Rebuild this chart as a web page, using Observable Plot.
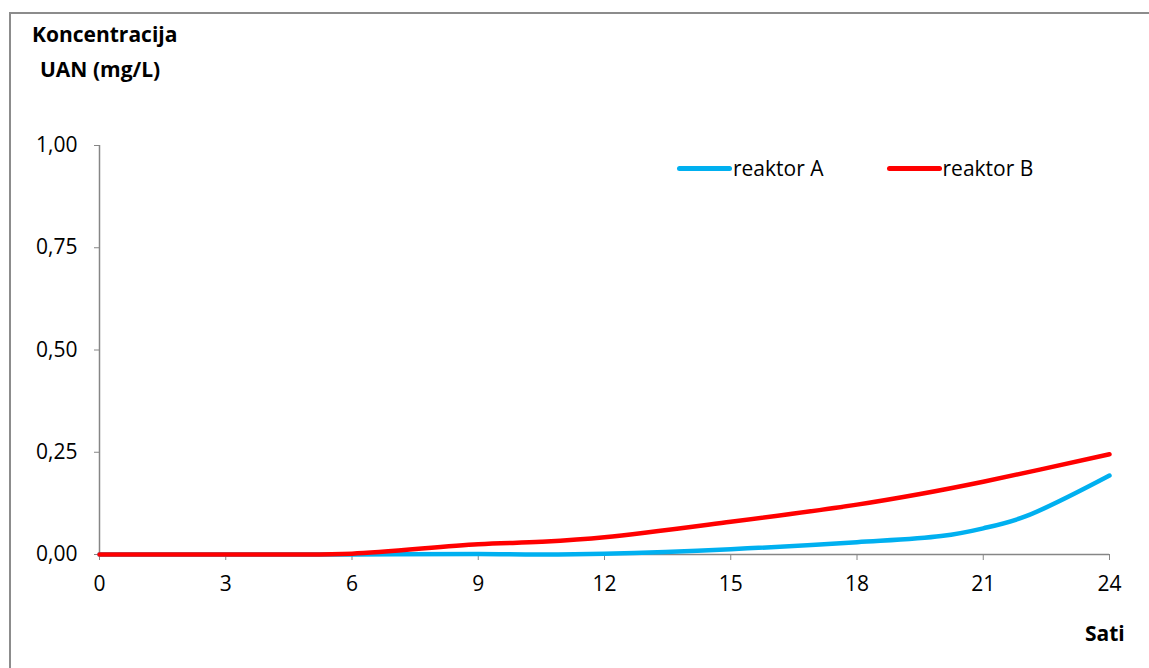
<!DOCTYPE html>
<html><head><meta charset="utf-8">
<script src="https://cdn.jsdelivr.net/npm/d3@7"></script>
<script src="https://cdn.jsdelivr.net/npm/@observablehq/plot@0.6"></script>
<style>
body{margin:0;background:#fff;}
#wrap{position:relative;width:1149px;height:668px;overflow:hidden;font-family:"Open Sans",sans-serif;}
#frame{position:absolute;left:9px;top:12px;width:1160px;height:680px;border:2px solid #8c8c8c;box-sizing:border-box;}
.t{position:absolute;font-weight:bold;font-size:21px;line-height:28px;color:#000;white-space:nowrap;}
#legend{position:absolute;left:677px;top:154px;font-size:21px;line-height:28px;display:flex;align-items:center;}
.sw{display:inline-block;width:55px;height:5px;border-radius:3px;margin-right:1px;}
</style></head>
<body><div id="wrap"><div id="frame"></div><div id="chart" style="position:absolute;left:0;top:0"></div>
<div class="t" style="left:32px;top:20px">Koncentracija</div>
<div class="t" style="left:40px;top:55px">UAN (mg/L)</div>
<div class="t" style="left:1085px;top:619px">Sati</div>
<div id="legend"></div>
</div>
<script>
const seriesNames = ["reaktor A", "reaktor B"];
const seriesColors = ["#00b0f0", "#ff0000"];
const hoursA = [0, 3, 6, 9, 10.5, 12, 15, 18, 20, 21, 22, 24];
const valuesA = [0, 0, 0, 0.001, 0, 0.002, 0.013, 0.03, 0.045, 0.064, 0.093, 0.193];
const hoursB = [0, 3, 4.5, 6, 9, 10.5, 12, 15, 18, 19.5, 21, 24];
const valuesB = [0, 0, 0, 0.002, 0.025, 0.031, 0.042, 0.08, 0.122, 0.148, 0.178, 0.245];
const xTicks = [0, 3, 6, 9, 12, 15, 18, 21, 24];
const yTicks = [0, 0.25, 0.5, 0.75, 1];

const rows = [
  ...hoursA.map((h, i) => ({h, v: valuesA[i], s: seriesNames[0]})),
  ...hoursB.map((h, i) => ({h, v: valuesB[i], s: seriesNames[1]}))
];
const fmt = d => d.toFixed(2).replace(".", ",");

const chart = Plot.plot({
  width: 1149, height: 668,
  marginLeft: 99, marginRight: 40, marginTop: 145, marginBottom: 114,
  style: {fontFamily: "'Open Sans', sans-serif", fontSize: "21px", background: "transparent", color: "#000"},
  x: {domain: [0, 24], ticks: xTicks, label: null},
  y: {domain: [0, 1], ticks: yTicks, label: null, tickFormat: fmt},
  color: {domain: seriesNames, range: seriesColors},
  marks: [
    Plot.ruleY([0], {stroke: "#868686", strokeWidth: 1.5}),
    Plot.ruleX([0], {stroke: "#868686", strokeWidth: 1.5}),
    Plot.axisX({ticks: xTicks, tickSize: 6, stroke: "#868686", tickPadding: 16, fontSize: 21, fill: "#000"}),
    Plot.axisY({ticks: yTicks, tickSize: 5, stroke: "#868686", tickPadding: 17, tickFormat: fmt, fontSize: 21, fill: "#000"}),
    Plot.line(rows, {x: "h", y: "v", z: "s", stroke: "s", strokeWidth: 4.5, curve: "catmull-rom", strokeLinecap: "round"})
  ]
});
document.getElementById("chart").appendChild(chart);

const lg = document.getElementById("legend");
seriesNames.forEach((n, i) => {
  const item = document.createElement("span");
  item.style.display = "inline-flex"; item.style.alignItems = "center";
  item.style.marginRight = i === 0 ? "63px" : "0";
  item.innerHTML = `<span class="sw" style="background:${seriesColors[i]}"></span><span>${n}</span>`;
  lg.appendChild(item);
});
</script></body></html>
